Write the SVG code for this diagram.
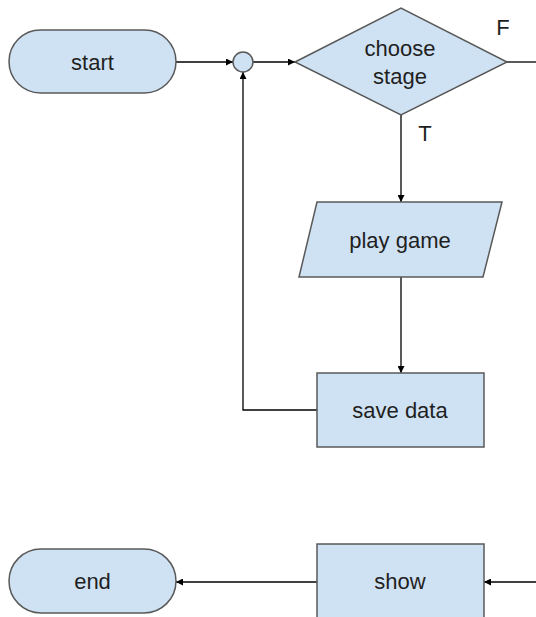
<svg xmlns="http://www.w3.org/2000/svg" width="536" height="617" viewBox="0 0 536 617">
<defs>
<style>
.n{fill:#cfe2f3;stroke:#595959;stroke-width:1.5}
.t{font-family:"Liberation Sans",Arial,sans-serif;font-size:22px;fill:#1f1f1f;text-anchor:middle}
.c{fill:none;stroke:#000;stroke-width:1.3}
</style>
<marker id="a" viewBox="0 0 10 10" refX="10" refY="5" markerWidth="7" markerHeight="7" markerUnits="userSpaceOnUse" orient="auto"><path d="M0,0L10,5L0,10z" fill="#000"/></marker>
</defs>
<rect width="536" height="617" fill="#fff"/>
<g id="connectors">
<path class="c" d="M176,62H233" marker-end="url(#a)"/>
<path class="c" d="M253,62H295" marker-end="url(#a)"/>
<path class="c" d="M507,62H536"/>
<path class="c" d="M401,115V202" marker-end="url(#a)"/>
<path class="c" d="M401,277V373" marker-end="url(#a)"/>
<path class="c" d="M317,410H243V72" marker-end="url(#a)"/>
<path class="c" d="M536,582H484" marker-end="url(#a)"/>
<path class="c" d="M317,582H176" marker-end="url(#a)"/>
</g>
<g id="start"><rect class="n" x="9" y="30" width="167" height="63" rx="31.5"/><text class="t" x="92.5" y="70">start</text></g>
<g id="junction"><circle class="n" cx="243" cy="62" r="10"/></g>
<g id="choose"><polygon class="n" points="295,62 401,8 507,62 401,115"/><text class="t" x="400" y="56">choose</text><text class="t" x="400" y="84">stage</text></g>
<g id="labelF"><text class="t" x="503" y="35">F</text></g>
<g id="labelT"><text class="t" x="425" y="141">T</text></g>
<g id="play"><polygon class="n" points="317,202 502,202 483,277 299,277"/><text class="t" x="400" y="248">play game</text></g>
<g id="save"><rect class="n" x="317" y="373" width="167" height="74"/><text class="t" x="400" y="418">save data</text></g>
<g id="end"><rect class="n" x="9" y="549" width="167" height="64" rx="32"/><text class="t" x="92.5" y="589">end</text></g>
<g id="show"><rect class="n" x="317" y="544" width="167" height="80"/><text class="t" x="400" y="589">show</text></g>
</svg>
